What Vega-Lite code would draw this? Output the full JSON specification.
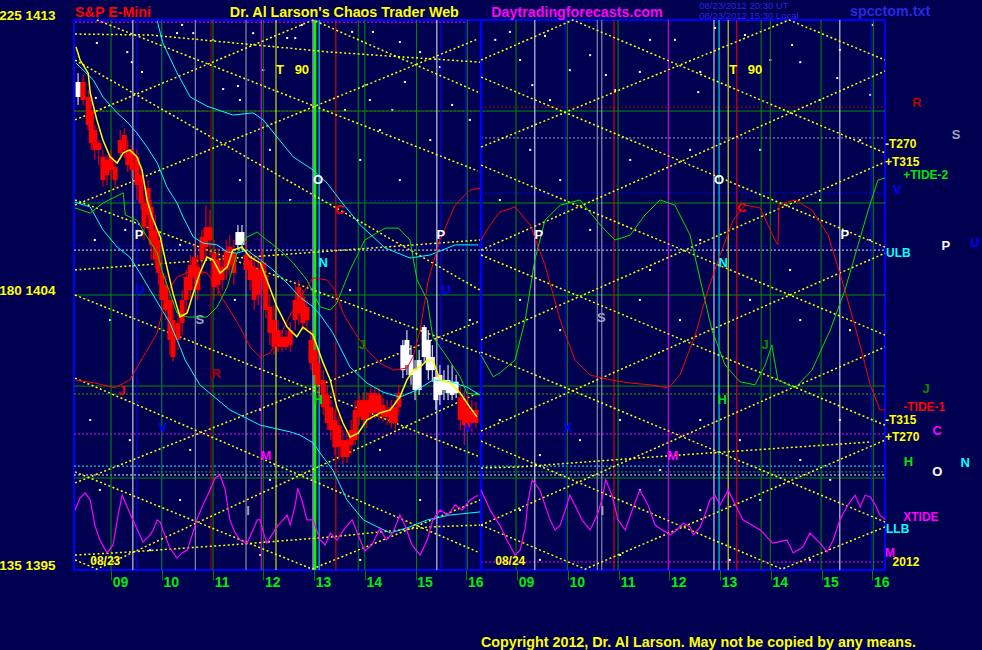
{
"$schema":"https://vega.github.io/schema/vega-lite/v6.json",
"width":811,"height":550,
"autosize":{"type":"none"},
"padding":{"left":74,"top":20,"right":97,"bottom":80},
"background":"#000050",
"config":{"view":{"stroke":"#0000ff","strokeWidth":2},"font":"Liberation Sans","axis":{"grid":false}},
"datasets":{
"stars":[{"s":-0.28,"p":1412.25},{"s":0.32,"p":1411.95},{"s":0.41,"p":1411.62},{"s":1.30,"p":1412.57},{"s":1.40,"p":1412.84},{"s":1.62,"p":1412.57},{"s":2.01,"p":1412.35},{"s":2.21,"p":1410.74},{"s":2.50,"p":1410.84},{"s":2.54,"p":1410.38},{"s":2.80,"p":1412.57},{"s":3.00,"p":1411.36},{"s":3.47,"p":1412.41},{"s":3.63,"p":1412.41},{"s":3.76,"p":1412.84},{"s":0.61,"p":1411.30},{"s":-0.30,"p":1410.45},{"s":4.75,"p":1412.61},{"s":5.16,"p":1412.61},{"s":5.69,"p":1412.28},{"s":6.09,"p":1411.95},{"s":6.48,"p":1411.46},{"s":6.72,"p":1410.22},{"s":5.79,"p":1410.97},{"s":5.00,"p":1410.87},{"s":5.10,"p":1410.38},{"s":4.61,"p":1410.05},{"s":5.54,"p":1410.05},{"s":7.57,"p":1412.35},{"s":7.86,"p":1412.61},{"s":8.55,"p":1412.48},{"s":8.06,"p":1411.69},{"s":8.65,"p":1410.38},{"s":8.30,"p":1410.87},{"s":10.62,"p":1412.35},{"s":10.42,"p":1411.30},{"s":9.93,"p":1410.71},{"s":9.75,"p":1411.20},{"s":9.44,"p":1411.85},{"s":9.04,"p":1411.36},{"s":11.11,"p":1412.35},{"s":11.61,"p":1411.30},{"s":11.90,"p":1412.74},{"s":12.49,"p":1412.51},{"s":12.99,"p":1411.69},{"s":13.42,"p":1412.18},{"s":13.58,"p":1411.62},{"s":13.97,"p":1410.38},{"s":14.31,"p":1411.10},{"s":14.36,"p":1412.02},{"s":15.00,"p":1412.84},{"s":14.96,"p":1410.55},{"s":11.57,"p":1410.64},{"s":-0.32,"p":1405.80},{"s":0.28,"p":1406.13},{"s":1.36,"p":1405.64},{"s":2.54,"p":1407.76},{"s":3.13,"p":1408.75},{"s":3.53,"p":1407.11},{"s":4.91,"p":1408.42},{"s":5.30,"p":1409.40},{"s":5.69,"p":1407.76},{"s":6.29,"p":1409.07},{"s":7.07,"p":1409.73},{"s":7.66,"p":1407.11},{"s":8.26,"p":1408.75},{"s":8.85,"p":1407.76},{"s":9.44,"p":1406.13},{"s":10.23,"p":1408.42},{"s":10.62,"p":1404.82},{"s":11.41,"p":1408.75},{"s":11.61,"p":1405.80},{"s":12.79,"p":1408.75},{"s":13.38,"p":1404.82},{"s":13.97,"p":1407.11},{"s":14.76,"p":1409.07},{"s":14.96,"p":1405.80},{"s":-0.02,"p":1403.18},{"s":2.44,"p":1403.84},{"s":4.71,"p":1404.16},{"s":7.07,"p":1403.18},{"s":8.06,"p":1403.84},{"s":8.85,"p":1402.85},{"s":10.42,"p":1403.84},{"s":11.21,"p":1403.18},{"s":12.59,"p":1403.84},{"s":13.58,"p":1403.18},{"s":14.56,"p":1402.85},{"s":-0.41,"p":1399.91},{"s":0.37,"p":1399.25},{"s":1.56,"p":1398.93},{"s":2.94,"p":1400.24},{"s":5.30,"p":1398.93},{"s":7.66,"p":1399.91},{"s":8.45,"p":1398.76},{"s":9.24,"p":1399.25},{"s":10.03,"p":1399.91},{"s":10.82,"p":1398.27},{"s":11.61,"p":1399.91},{"s":12.39,"p":1399.25},{"s":13.58,"p":1398.60},{"s":14.36,"p":1399.91},{"s":-0.22,"p":1397.62},{"s":1.36,"p":1397.29},{"s":3.13,"p":1397.95},{"s":6.09,"p":1397.29},{"s":8.06,"p":1396.96},{"s":10.42,"p":1397.62},{"s":11.61,"p":1396.96},{"s":12.79,"p":1397.29},{"s":14.17,"p":1397.95},{"s":-0.32,"p":1395.33},{"s":0.77,"p":1395.65},{"s":2.94,"p":1395.49},{"s":4.91,"p":1395.33},{"s":8.45,"p":1395.33},{"s":10.03,"p":1395.49},{"s":12.19,"p":1395.33},{"s":13.77,"p":1395.33}],
"hlines":[{"p":1412.93,"s0":-0.71,"s1":6.99,"k":"m"},{"p":1410.02,"s0":-0.73,"s1":7.29,"k":"dr"},{"p":1410.15,"s0":7.29,"s1":15.25,"k":"dr"},{"p":1410.02,"s0":-0.73,"s1":15.25,"k":"g"},{"p":1409.14,"s0":7.29,"s1":15.25,"k":"gy"},{"p":1407.08,"s0":-0.73,"s1":7.29,"k":"b"},{"p":1407.34,"s0":7.29,"s1":15.25,"k":"b"},{"p":1407.01,"s0":-0.73,"s1":15.25,"k":"g"},{"p":1405.60,"s0":-0.73,"s1":15.25,"k":"b"},{"p":1405.47,"s0":-0.73,"s1":15.25,"k":"w"},{"p":1404.00,"s0":-0.73,"s1":15.25,"k":"g"},{"p":1401.02,"s0":-0.73,"s1":15.25,"k":"g"},{"p":1400.76,"s0":-0.73,"s1":15.25,"k":"gd"},{"p":1399.45,"s0":-0.73,"s1":15.25,"k":"m"},{"p":1398.40,"s0":-0.73,"s1":15.25,"k":"c"},{"p":1398.21,"s0":0.83,"s1":15.25,"k":"gd"},{"p":1398.11,"s0":-0.73,"s1":15.25,"k":"w"},{"p":1398.01,"s0":-0.73,"s1":15.25,"k":"g"},{"p":1395.26,"s0":7.29,"s1":15.25,"k":"m"}],
"vlines":[{"s":0,"k":"g"},{"s":0.43,"k":"w"},{"s":0.51,"k":"b"},{"s":0.99,"k":"b"},{"s":1.00,"k":"g"},{"s":1.66,"k":"gy"},{"s":1.97,"k":"dr"},{"s":2.01,"k":"g"},{"s":2.66,"k":"gy"},{"s":2.96,"k":"m"},{"s":3.00,"k":"g"},{"s":3.25,"k":"y"},{"s":3.98,"k":"w"},{"s":4.02,"k":"lime"},{"s":4.10,"k":"c"},{"s":4.43,"k":"r"},{"s":4.87,"k":"g"},{"s":5.00,"k":"g"},{"s":6.02,"k":"g"},{"s":6.42,"k":"w"},{"s":6.50,"k":"b"},{"s":6.99,"k":"b"},{"s":7.02,"k":"g"},{"s":7.29,"k":"B"},{"s":7.98,"k":"g"},{"s":8.35,"k":"w"},{"s":8.95,"k":"b"},{"s":8.99,"k":"g"},{"s":9.58,"k":"gy"},{"s":9.67,"k":"gy"},{"s":9.91,"k":"r"},{"s":9.99,"k":"g"},{"s":10.98,"k":"m"},{"s":11.88,"k":"w"},{"s":11.98,"k":"c"},{"s":12.16,"k":"y"},{"s":12.33,"k":"r"},{"s":12.81,"k":"g"},{"s":12.99,"k":"g"},{"s":13.99,"k":"g"},{"s":14.36,"k":"w"},{"s":14.98,"k":"b"},{"s":15.02,"k":"g"}],
"ydots":[
{"id":"Y1","s":-0.71,"p":1409.73},{"id":"Y1","s":3.98,"p":1413.0},{"id":"Y1","s":7.23,"p":1410.64},
{"id":"Y2","s":-0.28,"p":1413.0},{"id":"Y2","s":7.23,"p":1408.06},
{"id":"Y3","s":-0.71,"p":1412.54},{"id":"Y3","s":0.77,"p":1412.51},{"id":"Y3","s":4.32,"p":1411.95},{"id":"Y3","s":7.27,"p":1411.62},
{"id":"Y4","s":-0.71,"p":1406.94},{"id":"Y4","s":7.23,"p":1412.38},
{"id":"Y5","s":-0.71,"p":1411.69},{"id":"Y5","s":4.51,"p":1406.78},{"id":"Y5","s":7.27,"p":1404.16},
{"id":"Y6","s":-0.71,"p":1407.11},{"id":"Y6","s":7.27,"p":1402.10},
{"id":"Y7","s":-0.71,"p":1404.0},{"id":"Y7","s":7.27,"p":1398.70},
{"id":"Y8","s":-0.71,"p":1401.28},{"id":"Y8","s":7.27,"p":1395.56},
{"id":"Y9","s":-0.71,"p":1397.85},{"id":"Y9","s":7.27,"p":1403.15},
{"id":"Y10","s":-0.71,"p":1395.33},{"id":"Y10","s":-0.28,"p":1395.03},{"id":"Y10","s":7.27,"p":1400.82},
{"id":"Y11","s":-0.71,"p":1398.21},{"id":"Y11","s":3.96,"p":1395.03},{"id":"Y11","s":7.27,"p":1397.29},
{"id":"Y12","s":-0.71,"p":1395.49},{"id":"Y12","s":0.37,"p":1395.59},{"id":"Y12","s":2.34,"p":1395.82},{"id":"Y12","s":4.32,"p":1396.08},{"id":"Y12","s":6.29,"p":1396.41},{"id":"Y12","s":7.27,"p":1396.47},
{"id":"Y14","s":-0.71,"p":1404.82},{"id":"Y14","s":7.27,"p":1405.80},
{"id":"D1","s":7.29,"p":1411.69},{"id":"D1","s":9.10,"p":1413.0},{"id":"D1","s":15.25,"p":1408.65},
{"id":"Ra","s":7.29,"p":1408.84},{"id":"Ra","s":13.36,"p":1413.0},{"id":"Ra","s":15.25,"p":1411.69},
{"id":"Rb","s":7.29,"p":1405.47},{"id":"Rb","s":15.25,"p":1411.33},
{"id":"Rc","s":7.29,"p":1402.53},{"id":"Rc","s":15.25,"p":1408.35},
{"id":"Rd","s":7.29,"p":1399.55},{"id":"Rd","s":15.25,"p":1405.37},
{"id":"Re","s":7.29,"p":1396.47},{"id":"Re","s":15.25,"p":1402.30},
{"id":"Rf","s":7.29,"p":1396.47},{"id":"Rf","s":9.34,"p":1395.03},{"id":"Rf","s":15.25,"p":1399.25},
{"id":"Dd2","s":7.29,"p":1411.13},{"id":"Dd2","s":15.25,"p":1405.57},
{"id":"Dd3","s":7.29,"p":1408.25},{"id":"Dd3","s":15.25,"p":1402.69},
{"id":"Dd4","s":7.29,"p":1405.31},{"id":"Dd4","s":15.25,"p":1399.74},
{"id":"Dd5","s":7.29,"p":1402.13},{"id":"Dd5","s":15.25,"p":1396.57},
{"id":"Dd6","s":7.29,"p":1399.22},{"id":"Dd6","s":13.22,"p":1395.03},{"id":"Dd6","s":15.25,"p":1396.41},
{"id":"D10","s":7.29,"p":1398.34},{"id":"D10","s":8.02,"p":1398.37},{"id":"D10","s":11.17,"p":1398.76},{"id":"D10","s":14.98,"p":1399.19}],
"candles":[{"s":-0.65,"t":1410.97,"b":1410.48,"h":1411.26,"l":1410.22,"k":"wt"},{"s":-0.55,"t":1410.97,"b":1410.38,"h":1411.20,"l":1410.22,"k":"r"},{"s":-0.45,"t":1410.48,"b":1409.56,"h":1410.71,"l":1409.40,"k":"r"},{"s":-0.39,"t":1410.05,"b":1408.97,"h":1410.38,"l":1408.75,"k":"r"},{"s":-0.32,"t":1409.40,"b":1408.75,"h":1409.56,"l":1408.42,"k":"r"},{"s":-0.24,"t":1408.97,"b":1408.75,"h":1409.07,"l":1408.25,"k":"r"},{"s":-0.16,"t":1408.52,"b":1407.76,"h":1408.75,"l":1407.54,"k":"r"},{"s":-0.08,"t":1408.42,"b":1407.93,"h":1408.58,"l":1407.60,"k":"r"},{"s":0.00,"t":1408.52,"b":1408.09,"h":1408.75,"l":1407.76,"k":"r"},{"s":0.08,"t":1408.19,"b":1407.76,"h":1408.42,"l":1407.50,"k":"r"},{"s":0.18,"t":1409.07,"b":1408.65,"h":1409.40,"l":1408.42,"k":"r"},{"s":0.26,"t":1409.24,"b":1408.75,"h":1409.46,"l":1408.48,"k":"r"},{"s":0.33,"t":1408.75,"b":1408.25,"h":1409.07,"l":1408.02,"k":"r"},{"s":0.41,"t":1408.75,"b":1408.09,"h":1408.91,"l":1407.83,"k":"r"},{"s":0.51,"t":1408.52,"b":1407.60,"h":1408.75,"l":1407.11,"k":"r"},{"s":0.59,"t":1407.93,"b":1407.01,"h":1408.25,"l":1406.78,"k":"r"},{"s":0.65,"t":1407.01,"b":1406.22,"h":1407.27,"l":1405.80,"k":"r"},{"s":0.73,"t":1407.50,"b":1406.62,"h":1407.76,"l":1406.13,"k":"r"},{"s":0.79,"t":1406.88,"b":1405.64,"h":1407.11,"l":1405.15,"k":"r"},{"s":0.87,"t":1406.13,"b":1405.15,"h":1406.62,"l":1404.88,"k":"r"},{"s":0.93,"t":1405.80,"b":1404.72,"h":1405.96,"l":1404.33,"k":"r"},{"s":1.00,"t":1404.72,"b":1403.84,"h":1405.15,"l":1403.51,"k":"r"},{"s":1.08,"t":1404.33,"b":1403.51,"h":1404.65,"l":1403.18,"k":"r"},{"s":1.16,"t":1403.84,"b":1402.53,"h":1404.16,"l":1402.04,"k":"r"},{"s":1.22,"t":1403.18,"b":1401.97,"h":1403.84,"l":1401.81,"k":"r"},{"s":1.32,"t":1403.08,"b":1402.53,"h":1403.51,"l":1402.20,"k":"r"},{"s":1.40,"t":1403.84,"b":1403.08,"h":1404.16,"l":1402.69,"k":"r"},{"s":1.48,"t":1404.59,"b":1403.84,"h":1404.82,"l":1403.35,"k":"r"},{"s":1.56,"t":1404.98,"b":1404.16,"h":1405.31,"l":1403.84,"k":"r"},{"s":1.64,"t":1405.24,"b":1404.59,"h":1405.64,"l":1404.16,"k":"r"},{"s":1.71,"t":1404.92,"b":1404.16,"h":1405.31,"l":1403.84,"k":"r"},{"s":1.79,"t":1405.90,"b":1405.15,"h":1406.13,"l":1404.65,"k":"r"},{"s":1.87,"t":1406.22,"b":1405.57,"h":1406.94,"l":1405.15,"k":"r"},{"s":1.95,"t":1406.22,"b":1405.80,"h":1406.78,"l":1405.31,"k":"r"},{"s":2.03,"t":1405.37,"b":1404.26,"h":1405.80,"l":1403.84,"k":"r"},{"s":2.11,"t":1405.15,"b":1404.33,"h":1405.54,"l":1404.00,"k":"r"},{"s":2.19,"t":1404.92,"b":1404.49,"h":1405.31,"l":1404.16,"k":"r"},{"s":2.27,"t":1405.47,"b":1404.82,"h":1405.80,"l":1404.49,"k":"r"},{"s":2.34,"t":1405.57,"b":1404.98,"h":1405.96,"l":1404.65,"k":"r"},{"s":2.42,"t":1405.37,"b":1404.72,"h":1405.80,"l":1404.33,"k":"r"},{"s":2.50,"t":1406.06,"b":1405.64,"h":1406.29,"l":1405.47,"k":"wt"},{"s":2.58,"t":1406.06,"b":1405.64,"h":1406.29,"l":1405.47,"k":"wt"},{"s":2.66,"t":1405.31,"b":1404.82,"h":1405.80,"l":1404.49,"k":"r"},{"s":2.74,"t":1405.15,"b":1404.49,"h":1405.47,"l":1404.16,"k":"r"},{"s":2.82,"t":1404.92,"b":1403.84,"h":1405.31,"l":1403.51,"k":"r"},{"s":2.90,"t":1404.82,"b":1404.00,"h":1405.31,"l":1403.67,"k":"r"},{"s":2.98,"t":1405.05,"b":1404.49,"h":1405.47,"l":1404.16,"k":"r"},{"s":3.05,"t":1404.65,"b":1403.51,"h":1405.08,"l":1403.25,"k":"r"},{"s":3.13,"t":1403.61,"b":1402.76,"h":1404.00,"l":1402.36,"k":"r"},{"s":3.21,"t":1403.18,"b":1402.30,"h":1403.67,"l":1402.04,"k":"r"},{"s":3.29,"t":1402.85,"b":1402.30,"h":1403.18,"l":1402.13,"k":"r"},{"s":3.37,"t":1402.63,"b":1402.30,"h":1402.85,"l":1402.13,"k":"r"},{"s":3.45,"t":1402.63,"b":1402.30,"h":1402.85,"l":1402.20,"k":"r"},{"s":3.53,"t":1402.85,"b":1402.36,"h":1403.12,"l":1402.13,"k":"r"},{"s":3.63,"t":1403.84,"b":1403.18,"h":1404.33,"l":1402.85,"k":"r"},{"s":3.70,"t":1404.26,"b":1403.41,"h":1404.49,"l":1403.02,"k":"r"},{"s":3.78,"t":1403.93,"b":1403.08,"h":1404.16,"l":1402.85,"k":"r"},{"s":3.86,"t":1403.61,"b":1403.18,"h":1403.84,"l":1402.85,"k":"r"},{"s":3.94,"t":1402.53,"b":1401.77,"h":1402.85,"l":1401.54,"k":"r"},{"s":4.02,"t":1402.20,"b":1401.38,"h":1402.53,"l":1401.06,"k":"r"},{"s":4.08,"t":1401.77,"b":1401.06,"h":1402.04,"l":1400.56,"k":"r"},{"s":4.18,"t":1401.22,"b":1400.33,"h":1401.54,"l":1400.07,"k":"r"},{"s":4.26,"t":1400.73,"b":1399.81,"h":1401.06,"l":1399.58,"k":"r"},{"s":4.33,"t":1400.33,"b":1399.58,"h":1400.56,"l":1399.25,"k":"r"},{"s":4.41,"t":1399.91,"b":1399.02,"h":1400.24,"l":1398.76,"k":"r"},{"s":4.49,"t":1399.74,"b":1399.02,"h":1400.07,"l":1398.60,"k":"r"},{"s":4.57,"t":1399.25,"b":1398.70,"h":1399.58,"l":1398.44,"k":"r"},{"s":4.65,"t":1399.25,"b":1398.70,"h":1399.58,"l":1398.50,"k":"r"},{"s":4.73,"t":1399.58,"b":1399.09,"h":1399.91,"l":1398.76,"k":"r"},{"s":4.81,"t":1400.24,"b":1399.25,"h":1400.56,"l":1399.09,"k":"r"},{"s":4.89,"t":1400.56,"b":1400.01,"h":1400.73,"l":1399.74,"k":"r"},{"s":4.97,"t":1400.56,"b":1399.91,"h":1400.82,"l":1399.74,"k":"r"},{"s":5.04,"t":1400.56,"b":1399.91,"h":1400.82,"l":1399.65,"k":"r"},{"s":5.12,"t":1400.79,"b":1400.14,"h":1401.06,"l":1399.91,"k":"r"},{"s":5.20,"t":1400.79,"b":1400.14,"h":1400.96,"l":1399.97,"k":"r"},{"s":5.28,"t":1400.73,"b":1400.14,"h":1400.96,"l":1399.91,"k":"r"},{"s":5.36,"t":1400.40,"b":1400.01,"h":1400.63,"l":1399.84,"k":"r"},{"s":5.44,"t":1400.24,"b":1400.01,"h":1400.56,"l":1399.74,"k":"r"},{"s":5.52,"t":1400.33,"b":1399.81,"h":1400.56,"l":1399.65,"k":"r"},{"s":5.60,"t":1400.33,"b":1399.81,"h":1400.56,"l":1399.58,"k":"r"},{"s":5.67,"t":1400.79,"b":1400.33,"h":1401.06,"l":1400.07,"k":"r"},{"s":5.75,"t":1402.36,"b":1401.54,"h":1402.53,"l":1401.28,"k":"wt"},{"s":5.83,"t":1402.53,"b":1401.71,"h":1402.85,"l":1401.38,"k":"wt"},{"s":5.91,"t":1402.04,"b":1401.38,"h":1402.36,"l":1401.06,"k":"wt"},{"s":5.99,"t":1401.54,"b":1400.89,"h":1401.87,"l":1400.56,"k":"wt"},{"s":6.07,"t":1401.87,"b":1400.89,"h":1402.20,"l":1400.73,"k":"wt"},{"s":6.17,"t":1402.95,"b":1401.97,"h":1403.02,"l":1401.81,"k":"wt"},{"s":6.25,"t":1402.53,"b":1401.54,"h":1402.85,"l":1401.22,"k":"wt"},{"s":6.33,"t":1401.97,"b":1401.54,"h":1402.36,"l":1401.16,"k":"wt"},{"s":6.40,"t":1401.32,"b":1400.56,"h":1401.54,"l":1400.24,"k":"wt"},{"s":6.48,"t":1401.38,"b":1400.73,"h":1401.71,"l":1400.40,"k":"wt"},{"s":6.56,"t":1401.22,"b":1400.89,"h":1401.54,"l":1400.56,"k":"wt"},{"s":6.64,"t":1401.22,"b":1400.79,"h":1401.71,"l":1400.56,"k":"wt"},{"s":6.72,"t":1401.16,"b":1400.73,"h":1401.71,"l":1400.56,"k":"wt"},{"s":6.80,"t":1401.16,"b":1400.79,"h":1401.38,"l":1400.63,"k":"wt"},{"s":6.88,"t":1400.66,"b":1399.91,"h":1401.06,"l":1399.58,"k":"r"},{"s":6.96,"t":1400.56,"b":1399.74,"h":1400.89,"l":1399.09,"k":"r"},{"s":7.03,"t":1400.33,"b":1399.68,"h":1400.73,"l":1399.58,"k":"r"},{"s":7.11,"t":1400.24,"b":1399.81,"h":1400.56,"l":1399.52,"k":"r"},{"s":7.19,"t":1400.24,"b":1399.81,"h":1400.50,"l":1399.65,"k":"r"}],
"cyan":[
{"id":"U","s":0.91,"p":1412.97},{"id":"U","s":1.02,"p":1412.25},{"id":"U","s":1.30,"p":1411.27},{"id":"U","s":1.56,"p":1410.48},{"id":"U","s":1.89,"p":1410.18},{"id":"U","s":2.40,"p":1409.89},{"id":"U","s":2.80,"p":1409.96},{"id":"U","s":3.00,"p":1409.73},{"id":"U","s":3.27,"p":1409.17},{"id":"U","s":3.59,"p":1408.52},{"id":"U","s":3.98,"p":1408.09},{"id":"U","s":4.26,"p":1407.66},{"id":"U","s":4.51,"p":1407.11},{"id":"U","s":4.91,"p":1406.29},{"id":"U","s":5.40,"p":1405.54},{"id":"U","s":5.89,"p":1405.21},{"id":"U","s":6.29,"p":1405.31},{"id":"U","s":6.78,"p":1405.64},{"id":"U","s":7.23,"p":1405.64},
{"id":"M","s":-0.69,"p":1411.59},{"id":"M","s":-0.35,"p":1411.04},{"id":"M","s":-0.16,"p":1410.48},{"id":"M","s":0.12,"p":1409.96},{"id":"M","s":0.32,"p":1409.66},{"id":"M","s":0.51,"p":1409.30},{"id":"M","s":0.71,"p":1408.84},{"id":"M","s":0.91,"p":1408.32},{"id":"M","s":1.10,"p":1407.54},{"id":"M","s":1.30,"p":1407.01},{"id":"M","s":1.42,"p":1406.55},{"id":"M","s":1.62,"p":1405.90},{"id":"M","s":1.81,"p":1405.70},{"id":"M","s":2.09,"p":1405.64},{"id":"M","s":2.29,"p":1405.41},{"id":"M","s":2.48,"p":1405.37},{"id":"M","s":2.68,"p":1405.47},{"id":"M","s":2.94,"p":1405.15},{"id":"M","s":3.19,"p":1404.82},{"id":"M","s":3.47,"p":1404.39},{"id":"M","s":3.72,"p":1403.93},{"id":"M","s":3.98,"p":1403.61},{"id":"M","s":4.12,"p":1403.35},{"id":"M","s":4.37,"p":1402.76},{"id":"M","s":4.71,"p":1401.64},{"id":"M","s":5.04,"p":1401.12},{"id":"M","s":5.36,"p":1400.82},{"id":"M","s":5.69,"p":1400.66},{"id":"M","s":6.03,"p":1400.89},{"id":"M","s":6.34,"p":1401.22},{"id":"M","s":6.68,"p":1401.16},{"id":"M","s":7.01,"p":1400.99},{"id":"M","s":7.27,"p":1400.73},
{"id":"L","s":-0.71,"p":1407.04},{"id":"L","s":-0.41,"p":1406.88},{"id":"L","s":-0.16,"p":1406.13},{"id":"L","s":0.12,"p":1405.57},{"id":"L","s":0.37,"p":1405.24},{"id":"L","s":0.57,"p":1404.72},{"id":"L","s":0.77,"p":1404.16},{"id":"L","s":0.97,"p":1403.61},{"id":"L","s":1.16,"p":1403.08},{"id":"L","s":1.36,"p":1402.30},{"id":"L","s":1.46,"p":1401.87},{"id":"L","s":1.75,"p":1401.06},{"id":"L","s":2.34,"p":1400.24},{"id":"L","s":2.94,"p":1399.74},{"id":"L","s":3.53,"p":1399.52},{"id":"L","s":3.72,"p":1399.42},{"id":"L","s":3.98,"p":1399.16},{"id":"L","s":4.12,"p":1398.83},{"id":"L","s":4.37,"p":1398.27},{"id":"L","s":4.65,"p":1397.29},{"id":"L","s":4.97,"p":1396.64},{"id":"L","s":5.50,"p":1396.21},{"id":"L","s":5.89,"p":1396.41},{"id":"L","s":6.23,"p":1396.64},{"id":"L","s":6.68,"p":1396.80},{"id":"L","s":7.27,"p":1396.90}],
"green":[
{"id":"a","s":-0.71,"p":1406.85},{"id":"a","s":-0.41,"p":1406.68},{"id":"a","s":-0.16,"p":1407.01},{"id":"a","s":0.24,"p":1407.34},{"id":"a","s":0.28,"p":1406.62},{"id":"a","s":0.51,"p":1406.45},{"id":"a","s":0.71,"p":1405.90},{"id":"a","s":0.91,"p":1405.37},{"id":"a","s":1.02,"p":1404.72},{"id":"a","s":1.16,"p":1404.06},{"id":"a","s":1.30,"p":1403.41},{"id":"a","s":1.50,"p":1403.28},{"id":"a","s":1.89,"p":1403.28},{"id":"a","s":2.09,"p":1403.61},{"id":"a","s":2.29,"p":1404.26},{"id":"a","s":2.48,"p":1405.37},{"id":"a","s":2.68,"p":1405.90},{"id":"a","s":2.88,"p":1406.06},{"id":"a","s":3.07,"p":1405.80},{"id":"a","s":3.33,"p":1405.47},{"id":"a","s":3.59,"p":1405.05},{"id":"a","s":3.86,"p":1404.49},{"id":"a","s":4.12,"p":1403.61},{"id":"a","s":4.32,"p":1403.51},{"id":"a","s":4.45,"p":1403.74},{"id":"a","s":4.71,"p":1404.82},{"id":"a","s":5.00,"p":1405.80},{"id":"a","s":5.40,"p":1406.19},{"id":"a","s":5.66,"p":1406.19},{"id":"a","s":5.89,"p":1405.80},{"id":"a","s":6.03,"p":1404.49},{"id":"a","s":6.23,"p":1403.84},{"id":"a","s":6.34,"p":1402.63},{"id":"a","s":6.62,"p":1401.97},{"id":"a","s":6.88,"p":1401.32},{"id":"a","s":7.01,"p":1400.79},{"id":"a","s":7.27,"p":1400.73},
{"id":"b","s":7.29,"p":1402.04},{"id":"b","s":7.53,"p":1401.32},{"id":"b","s":7.66,"p":1401.45},{"id":"b","s":7.96,"p":1401.87},{"id":"b","s":8.16,"p":1403.18},{"id":"b","s":8.35,"p":1405.15},{"id":"b","s":8.55,"p":1406.45},{"id":"b","s":8.85,"p":1406.94},{"id":"b","s":9.24,"p":1407.11},{"id":"b","s":9.64,"p":1406.29},{"id":"b","s":9.93,"p":1405.80},{"id":"b","s":10.23,"p":1405.96},{"id":"b","s":10.52,"p":1406.62},{"id":"b","s":10.82,"p":1407.11},{"id":"b","s":11.11,"p":1406.94},{"id":"b","s":11.41,"p":1405.96},{"id":"b","s":11.61,"p":1404.49},{"id":"b","s":11.84,"p":1402.85},{"id":"b","s":12.10,"p":1401.71},{"id":"b","s":12.39,"p":1401.16},{"id":"b","s":12.69,"p":1401.06},{"id":"b","s":12.89,"p":1401.71},{"id":"b","s":13.02,"p":1402.36},{"id":"b","s":13.14,"p":1401.22},{"id":"b","s":13.48,"p":1400.96},{"id":"b","s":13.81,"p":1401.54},{"id":"b","s":14.17,"p":1402.85},{"id":"b","s":14.46,"p":1404.16},{"id":"b","s":14.72,"p":1405.64},{"id":"b","s":14.92,"p":1406.78},{"id":"b","s":15.11,"p":1407.76},{"id":"b","s":15.25,"p":1407.83}],
"red":[
{"id":"a","s":-0.71,"p":1401.22},{"id":"a","s":-0.32,"p":1401.12},{"id":"a","s":0.08,"p":1400.96},{"id":"a","s":0.37,"p":1401.22},{"id":"a","s":0.63,"p":1401.97},{"id":"a","s":0.91,"p":1402.76},{"id":"a","s":1.10,"p":1404.06},{"id":"a","s":1.30,"p":1404.59},{"id":"a","s":1.62,"p":1404.82},{"id":"a","s":1.89,"p":1404.72},{"id":"a","s":2.09,"p":1404.26},{"id":"a","s":2.21,"p":1403.84},{"id":"a","s":2.34,"p":1403.51},{"id":"a","s":2.54,"p":1402.95},{"id":"a","s":2.74,"p":1402.30},{"id":"a","s":2.94,"p":1401.97},{"id":"a","s":3.13,"p":1402.10},{"id":"a","s":3.33,"p":1402.69},{"id":"a","s":3.63,"p":1403.67},{"id":"a","s":3.98,"p":1404.56},{"id":"a","s":4.26,"p":1404.49},{"id":"a","s":4.41,"p":1404.16},{"id":"a","s":4.57,"p":1403.41},{"id":"a","s":4.77,"p":1402.85},{"id":"a","s":5.04,"p":1402.20},{"id":"a","s":5.30,"p":1401.77},{"id":"a","s":5.56,"p":1401.54},{"id":"a","s":5.83,"p":1401.61},{"id":"a","s":5.95,"p":1401.97},{"id":"a","s":6.09,"p":1402.85},{"id":"a","s":6.25,"p":1404.49},{"id":"a","s":6.48,"p":1405.80},{"id":"a","s":6.78,"p":1406.94},{"id":"a","s":7.07,"p":1407.44},{"id":"a","s":7.27,"p":1407.50},
{"id":"b","s":7.29,"p":1405.80},{"id":"b","s":7.47,"p":1406.29},{"id":"b","s":7.66,"p":1406.72},{"id":"b","s":7.96,"p":1406.88},{"id":"b","s":8.26,"p":1406.29},{"id":"b","s":8.55,"p":1404.98},{"id":"b","s":8.85,"p":1403.18},{"id":"b","s":9.14,"p":1401.87},{"id":"b","s":9.44,"p":1401.38},{"id":"b","s":9.83,"p":1401.22},{"id":"b","s":10.23,"p":1401.12},{"id":"b","s":10.62,"p":1401.06},{"id":"b","s":10.98,"p":1400.96},{"id":"b","s":11.21,"p":1401.38},{"id":"b","s":11.51,"p":1402.69},{"id":"b","s":11.76,"p":1404.16},{"id":"b","s":12.00,"p":1405.31},{"id":"b","s":12.26,"p":1406.45},{"id":"b","s":12.49,"p":1406.94},{"id":"b","s":12.79,"p":1406.85},{"id":"b","s":13.08,"p":1405.80},{"id":"b","s":13.14,"p":1405.64},{"id":"b","s":13.16,"p":1406.94},{"id":"b","s":13.48,"p":1407.11},{"id":"b","s":13.81,"p":1406.78},{"id":"b","s":14.13,"p":1405.96},{"id":"b","s":14.46,"p":1404.16},{"id":"b","s":14.76,"p":1402.36},{"id":"b","s":14.96,"p":1401.06},{"id":"b","s":15.15,"p":1400.24},{"id":"b","s":15.25,"p":1400.24}],
"magenta":[
{"id":"a","s":-0.71,"p":1396.96},{"id":"a","s":-0.61,"p":1397.36},{"id":"a","s":-0.51,"p":1397.52},{"id":"a","s":-0.41,"p":1397.29},{"id":"a","s":-0.32,"p":1396.47},{"id":"a","s":-0.22,"p":1395.98},{"id":"a","s":-0.08,"p":1395.56},{"id":"a","s":0.04,"p":1395.82},{"id":"a","s":0.14,"p":1396.80},{"id":"a","s":0.22,"p":1397.45},{"id":"a","s":0.30,"p":1397.13},{"id":"a","s":0.43,"p":1396.64},{"id":"a","s":0.63,"p":1395.92},{"id":"a","s":0.77,"p":1396.15},{"id":"a","s":0.83,"p":1396.31},{"id":"a","s":0.91,"p":1396.64},{"id":"a","s":0.97,"p":1396.57},{"id":"a","s":1.02,"p":1396.31},{"id":"a","s":1.16,"p":1395.72},{"id":"a","s":1.30,"p":1395.39},{"id":"a","s":1.40,"p":1395.56},{"id":"a","s":1.50,"p":1395.65},{"id":"a","s":1.60,"p":1396.15},{"id":"a","s":1.69,"p":1396.64},{"id":"a","s":1.81,"p":1397.13},{"id":"a","s":1.95,"p":1397.62},{"id":"a","s":2.05,"p":1398.01},{"id":"a","s":2.15,"p":1398.11},{"id":"a","s":2.25,"p":1397.62},{"id":"a","s":2.34,"p":1396.64},{"id":"a","s":2.44,"p":1396.24},{"id":"a","s":2.54,"p":1395.98},{"id":"a","s":2.68,"p":1395.88},{"id":"a","s":2.78,"p":1396.24},{"id":"a","s":2.88,"p":1396.64},{"id":"a","s":2.94,"p":1396.64},{"id":"a","s":3.00,"p":1396.24},{"id":"a","s":3.07,"p":1395.88},{"id":"a","s":3.17,"p":1396.15},{"id":"a","s":3.29,"p":1396.47},{"id":"a","s":3.39,"p":1396.64},{"id":"a","s":3.47,"p":1396.80},{"id":"a","s":3.53,"p":1396.47},{"id":"a","s":3.63,"p":1397.13},{"id":"a","s":3.68,"p":1397.68},{"id":"a","s":3.76,"p":1397.29},{"id":"a","s":3.86,"p":1396.64},{"id":"a","s":3.98,"p":1396.64},{"id":"a","s":4.12,"p":1395.98},{"id":"a","s":4.22,"p":1395.82},{"id":"a","s":4.32,"p":1396.21},{"id":"a","s":4.45,"p":1395.98},{"id":"a","s":4.61,"p":1396.37},{"id":"a","s":4.75,"p":1396.64},{"id":"a","s":4.91,"p":1395.98},{"id":"a","s":5.00,"p":1395.62},{"id":"a","s":5.14,"p":1395.82},{"id":"a","s":5.30,"p":1396.37},{"id":"a","s":5.42,"p":1395.98},{"id":"a","s":5.56,"p":1396.24},{"id":"a","s":5.69,"p":1396.80},{"id":"a","s":5.79,"p":1396.47},{"id":"a","s":5.93,"p":1395.82},{"id":"a","s":6.09,"p":1395.49},{"id":"a","s":6.23,"p":1395.98},{"id":"a","s":6.34,"p":1396.64},{"id":"a","s":6.48,"p":1396.96},{"id":"a","s":6.64,"p":1396.80},{"id":"a","s":6.78,"p":1397.13},{"id":"a","s":6.92,"p":1396.96},{"id":"a","s":7.07,"p":1397.29},{"id":"a","s":7.23,"p":1397.45},
{"id":"b","s":7.29,"p":1397.62},{"id":"b","s":7.47,"p":1396.96},{"id":"b","s":7.66,"p":1396.47},{"id":"b","s":7.80,"p":1395.98},{"id":"b","s":7.96,"p":1395.49},{"id":"b","s":8.06,"p":1395.65},{"id":"b","s":8.16,"p":1396.37},{"id":"b","s":8.22,"p":1397.29},{"id":"b","s":8.30,"p":1397.95},{"id":"b","s":8.45,"p":1397.62},{"id":"b","s":8.55,"p":1397.13},{"id":"b","s":8.65,"p":1396.64},{"id":"b","s":8.75,"p":1396.31},{"id":"b","s":8.85,"p":1396.47},{"id":"b","s":8.95,"p":1396.96},{"id":"b","s":9.04,"p":1397.45},{"id":"b","s":9.14,"p":1397.13},{"id":"b","s":9.28,"p":1396.64},{"id":"b","s":9.44,"p":1396.31},{"id":"b","s":9.58,"p":1396.80},{"id":"b","s":9.67,"p":1397.29},{"id":"b","s":9.75,"p":1397.95},{"id":"b","s":9.87,"p":1397.45},{"id":"b","s":9.99,"p":1396.64},{"id":"b","s":10.13,"p":1396.31},{"id":"b","s":10.27,"p":1396.96},{"id":"b","s":10.42,"p":1397.62},{"id":"b","s":10.58,"p":1397.13},{"id":"b","s":10.72,"p":1396.47},{"id":"b","s":10.86,"p":1396.31},{"id":"b","s":11.02,"p":1396.15},{"id":"b","s":11.15,"p":1396.31},{"id":"b","s":11.27,"p":1396.54},{"id":"b","s":11.41,"p":1396.41},{"id":"b","s":11.47,"p":1396.15},{"id":"b","s":11.61,"p":1396.41},{"id":"b","s":11.70,"p":1396.80},{"id":"b","s":11.80,"p":1397.29},{"id":"b","s":11.90,"p":1397.45},{"id":"b","s":12.00,"p":1397.13},{"id":"b","s":12.16,"p":1397.62},{"id":"b","s":12.30,"p":1397.13},{"id":"b","s":12.45,"p":1396.64},{"id":"b","s":12.79,"p":1396.31},{"id":"b","s":13.04,"p":1395.88},{"id":"b","s":13.32,"p":1395.98},{"id":"b","s":13.44,"p":1395.56},{"id":"b","s":13.63,"p":1395.75},{"id":"b","s":13.77,"p":1396.21},{"id":"b","s":13.97,"p":1395.88},{"id":"b","s":14.11,"p":1395.59},{"id":"b","s":14.23,"p":1395.98},{"id":"b","s":14.36,"p":1396.64},{"id":"b","s":14.52,"p":1397.13},{"id":"b","s":14.66,"p":1397.45},{"id":"b","s":14.76,"p":1397.06},{"id":"b","s":14.86,"p":1397.45},{"id":"b","s":14.96,"p":1397.39},{"id":"b","s":15.06,"p":1397.13},{"id":"b","s":15.15,"p":1396.80},{"id":"b","s":15.25,"p":1396.64}],
"ma":[{"s":-0.69,"p":1412.12},{"s":-0.61,"p":1411.69},{"s":-0.45,"p":1411.26},{"s":-0.41,"p":1410.61},{"s":-0.28,"p":1409.73},{"s":-0.16,"p":1409.07},{"s":-0.02,"p":1408.52},{"s":0.12,"p":1408.32},{"s":0.24,"p":1408.65},{"s":0.37,"p":1408.75},{"s":0.51,"p":1408.52},{"s":0.61,"p":1408.09},{"s":0.71,"p":1407.11},{"s":0.81,"p":1406.55},{"s":0.97,"p":1405.90},{"s":1.10,"p":1404.92},{"s":1.22,"p":1404.06},{"s":1.36,"p":1403.28},{"s":1.50,"p":1403.41},{"s":1.62,"p":1404.06},{"s":1.75,"p":1404.72},{"s":1.89,"p":1405.24},{"s":2.01,"p":1405.15},{"s":2.15,"p":1404.72},{"s":2.29,"p":1404.92},{"s":2.40,"p":1405.47},{"s":2.58,"p":1405.57},{"s":2.74,"p":1405.24},{"s":2.94,"p":1405.05},{"s":3.07,"p":1404.49},{"s":3.27,"p":1403.61},{"s":3.47,"p":1402.95},{"s":3.66,"p":1402.63},{"s":3.78,"p":1402.95},{"s":3.98,"p":1402.69},{"s":4.18,"p":1401.77},{"s":4.32,"p":1401.22},{"s":4.45,"p":1400.33},{"s":4.57,"p":1399.81},{"s":4.71,"p":1399.35},{"s":4.87,"p":1399.48},{"s":5.04,"p":1399.91},{"s":5.30,"p":1400.14},{"s":5.50,"p":1400.24},{"s":5.69,"p":1400.66},{"s":5.83,"p":1401.22},{"s":5.95,"p":1401.54},{"s":6.09,"p":1401.64},{"s":6.23,"p":1401.87},{"s":6.34,"p":1401.87},{"s":6.48,"p":1401.22},{"s":6.68,"p":1401.12},{"s":6.88,"p":1400.79},{"s":7.07,"p":1400.33},{"s":7.21,"p":1400.01}],
"letters":[{"s":3.33,"p":1411.36,"txt":"T","k":"y"},{"s":3.76,"p":1411.36,"txt":"90","k":"y"},{"s":12.26,"p":1411.36,"txt":"T","k":"y"},{"s":12.69,"p":1411.36,"txt":"90","k":"y"},{"s":4.08,"p":1407.76,"txt":"O","k":"wt"},{"s":11.98,"p":1407.76,"txt":"O","k":"wt"},{"s":0.55,"p":1405.96,"txt":"P","k":"wt"},{"s":6.50,"p":1405.96,"txt":"P","k":"wt"},{"s":8.43,"p":1405.96,"txt":"P","k":"wt"},{"s":14.46,"p":1405.96,"txt":"P","k":"wt"},{"s":4.18,"p":1405.05,"txt":"N","k":"c"},{"s":12.06,"p":1405.05,"txt":"N","k":"c"},{"s":4.51,"p":1406.78,"txt":"C","k":"r"},{"s":12.43,"p":1406.85,"txt":"C","k":"r"},{"s":0.57,"p":1404.16,"txt":"U","k":"b"},{"s":6.60,"p":1404.16,"txt":"U","k":"b"},{"s":1.75,"p":1403.18,"txt":"S","k":"gy"},{"s":9.66,"p":1403.25,"txt":"S","k":"gy"},{"s":4.95,"p":1402.36,"txt":"J","k":"g"},{"s":12.89,"p":1402.36,"txt":"J","k":"g"},{"s":4.08,"p":1400.56,"txt":"H","k":"lg"},{"s":12.04,"p":1400.56,"txt":"H","k":"lg"},{"s":1.02,"p":1399.65,"txt":"V","k":"b"},{"s":7.05,"p":1399.65,"txt":"V","k":"b"},{"s":9.00,"p":1399.65,"txt":"X","k":"b"},{"s":3.05,"p":1398.73,"txt":"M","k":"m"},{"s":11.07,"p":1398.73,"txt":"M","k":"m"},{"s":2.07,"p":1401.41,"txt":"R","k":"dr"},{"s":0.22,"p":1400.86,"txt":"J","k":"r"},{"s":2.70,"p":1396.93,"txt":"I","k":"gy"},{"s":9.68,"p":1396.93,"txt":"I","k":"gy"},{"s":15.88,"p":1410.28,"txt":"R","k":"dr"},{"s":16.65,"p":1409.24,"txt":"S","k":"gy"},{"s":15.49,"p":1407.44,"txt":"V","k":"b"},{"s":16.45,"p":1405.60,"txt":"P","k":"wt"},{"s":17.02,"p":1405.70,"txt":"U","k":"b"},{"s":16.06,"p":1400.92,"txt":"J","k":"g"},{"s":16.28,"p":1399.55,"txt":"C","k":"m"},{"s":15.71,"p":1398.53,"txt":"H","k":"lg"},{"s":16.28,"p":1398.21,"txt":"O","k":"wt"},{"s":16.83,"p":1398.50,"txt":"N","k":"c"}],
"rlabels":[{"s":15.25,"p":1408.94,"txt":"-T270","k":"y"},{"s":15.25,"p":1408.35,"txt":"+T315","k":"y"},{"s":15.61,"p":1407.93,"txt":"+TIDE-2","k":"lg"},{"s":15.27,"p":1405.37,"txt":"ULB","k":"c"},{"s":15.61,"p":1400.33,"txt":"-TIDE-1","k":"r"},{"s":15.25,"p":1399.91,"txt":"-T315","k":"y"},{"s":15.25,"p":1399.35,"txt":"+T270","k":"y"},{"s":15.61,"p":1396.74,"txt":"XTIDE","k":"m"},{"s":15.27,"p":1396.34,"txt":"LLB","k":"c"},{"s":15.25,"p":1395.55,"txt":"M","k":"m"},{"s":15.40,"p":1395.25,"txt":"2012","k":"y"},{"s":-0.41,"p":1395.29,"txt":"08/23","k":"y"},{"s":7.57,"p":1395.29,"txt":"08/24","k":"y"}],
"titles":[{"s":-0.71,"p":1413.23,"txt":"S&P E-Mini","k":"r"},{"s":2.34,"p":1413.23,"txt":"Dr. Al Larson's Chaos Trader Web","k":"y"},{"s":7.49,"p":1413.23,"txt":"Daytradingforecasts.com","k":"m"},{"s":14.56,"p":1413.26,"txt":"spcctom.txt","k":"ub"},{"s":7.29,"p":1392.61,"txt":"Copyright 2012, Dr. Al Larson. May not be copied by any means.","k":"y"}],
"small":[{"s":11.59,"p":1413.46,"txt":"08/23/2012 20:30 UT"},{"s":11.59,"p":1413.13,"txt":"08/23/2012 15:30 Local"}]
},
"layer":[
{"data":{"name":"stars"},"mark":{"type":"point","shape":"square","size":4,"filled":true,"color":"#ffffff","opacity":1},
 "encoding":{"x":{"field":"s","type":"quantitative","scale":{"domain":[-0.73,15.25],"nice":false,"zero":false},
   "axis":{"title":null,"values":[0,1,2,3,4,5,6,7,8,9,10,11,12,13,14,15],"labelExpr":"datum.value == 0 || datum.value == 8 ? '09' : '' + (datum.value < 8 ? datum.value + 9 : datum.value + 1)","grid":false,"domain":false,"ticks":true,"tickColor":"#008000","tickSize":10,"tickWidth":1,"labelColor":"#00ee00","labelFont":"Liberation Sans","labelFontWeight":"bold","labelFontSize":14,"labelOffset":9,"labelPadding":-5,"labelFlush":false,"labelOverlap":false}},
  "y":{"field":"p","type":"quantitative","scale":{"domain":[1395,1413],"nice":false,"zero":false},
   "axis":{"title":null,"values":[1395,1404,1413],"labelExpr":"datum.value == 1413 ? '225 1413' : datum.value == 1404 ? '180 1404' : '135 1395'","grid":false,"domain":false,"ticks":false,"labelColor":"#ffff00","labelFont":"Liberation Sans","labelFontWeight":"bold","labelFontSize":13.5,"labelPadding":19,"labelOffset":-5,"labelFlush":false,"labelOverlap":false}}}},
{"data":{"name":"hlines"},"transform":[{"filter":"datum.k != 'g'"}],"mark":{"type":"rule","strokeWidth":1,"strokeDash":[2,2]},
 "encoding":{"x":{"field":"s0","type":"quantitative","scale":{"domain":[-0.73,15.25],"nice":false,"zero":false},"axis":{"title":null}},"x2":{"field":"s1"},
  "y":{"field":"p","type":"quantitative","scale":{"domain":[1395,1413],"nice":false,"zero":false},"axis":{"title":null}},
  "color":{"field":"k","type":"nominal","legend":null,"scale":{"domain":["g","lime","w","b","gy","dr","m","y","c","r","gd","ub","lg","wt","B"],"range":["#009000","#00ff00","#e8e8ff","#0000ff","#a0a0c0","#b00000","#ff00ff","#ffff00","#00ffff","#ff0000","#00c000","#2828e0","#00e600","#ffffff","#0000ff"]}}}},
{"data":{"name":"hlines"},"transform":[{"filter":"datum.k == 'g'"}],"mark":{"type":"rule","strokeWidth":1},
 "encoding":{"x":{"field":"s0","type":"quantitative","scale":{"domain":[-0.73,15.25],"nice":false,"zero":false},"axis":{"title":null}},"x2":{"field":"s1"},
  "y":{"field":"p","type":"quantitative","scale":{"domain":[1395,1413],"nice":false,"zero":false},"axis":{"title":null}},
  "color":{"field":"k","type":"nominal","legend":null,"scale":{"domain":["g","lime","w","b","gy","dr","m","y","c","r","gd","ub","lg","wt","B"],"range":["#009000","#00ff00","#e8e8ff","#0000ff","#a0a0c0","#b00000","#ff00ff","#ffff00","#00ffff","#ff0000","#00c000","#2828e0","#00e600","#ffffff","#0000ff"]}}}},
{"data":{"name":"vlines"},"transform":[{"filter":"datum.k != 'lime' && datum.k != 'B'"}],"mark":{"type":"rule","strokeWidth":1},
 "encoding":{"x":{"field":"s","type":"quantitative","scale":{"domain":[-0.73,15.25],"nice":false,"zero":false},"axis":{"title":null}},
  "color":{"field":"k","type":"nominal","legend":null,"scale":{"domain":["g","lime","w","b","gy","dr","m","y","c","r","gd","ub","lg","wt","B"],"range":["#009000","#00ff00","#e8e8ff","#0000ff","#a0a0c0","#b00000","#ff00ff","#ffff00","#00ffff","#ff0000","#00c000","#2828e0","#00e600","#ffffff","#0000ff"]}}}},
{"data":{"name":"vlines"},"transform":[{"filter":"datum.k == 'lime' || datum.k == 'B'"}],"mark":{"type":"rule","strokeWidth":2.5},
 "encoding":{"x":{"field":"s","type":"quantitative","scale":{"domain":[-0.73,15.25],"nice":false,"zero":false},"axis":{"title":null}},
  "color":{"field":"k","type":"nominal","legend":null,"scale":{"domain":["g","lime","w","b","gy","dr","m","y","c","r","gd","ub","lg","wt","B"],"range":["#009000","#00ff00","#e8e8ff","#0000ff","#a0a0c0","#b00000","#ff00ff","#ffff00","#00ffff","#ff0000","#00c000","#2828e0","#00e600","#ffffff","#0000ff"]}}}},
{"data":{"name":"ydots"},"mark":{"type":"line","color":"#ffff00","strokeWidth":1.5,"strokeDash":[2,2.5]},
 "encoding":{"x":{"field":"s","type":"quantitative","scale":{"domain":[-0.73,15.25],"nice":false,"zero":false},"axis":{"title":null}},
  "y":{"field":"p","type":"quantitative","scale":{"domain":[1395,1413],"nice":false,"zero":false},"axis":{"title":null}},"detail":{"field":"id","type":"nominal"}}},
{"data":{"name":"candles"},"mark":{"type":"rule","strokeWidth":1},
 "encoding":{"x":{"field":"s","type":"quantitative","scale":{"domain":[-0.73,15.25],"nice":false,"zero":false},"axis":{"title":null}},
  "y":{"field":"h","type":"quantitative","scale":{"domain":[1395,1413],"nice":false,"zero":false},"axis":{"title":null}},"y2":{"field":"l"},
  "color":{"field":"k","type":"nominal","legend":null,"scale":{"domain":["g","lime","w","b","gy","dr","m","y","c","r","gd","ub","lg","wt","B"],"range":["#009000","#00ff00","#e8e8ff","#0000ff","#a0a0c0","#b00000","#ff00ff","#ffff00","#00ffff","#ff0000","#00c000","#2828e0","#00e600","#ffffff","#0000ff"]}}}},
{"data":{"name":"candles"},"mark":{"type":"rule","strokeWidth":5,"strokeCap":"butt"},
 "encoding":{"x":{"field":"s","type":"quantitative","scale":{"domain":[-0.73,15.25],"nice":false,"zero":false},"axis":{"title":null}},
  "y":{"field":"t","type":"quantitative","scale":{"domain":[1395,1413],"nice":false,"zero":false},"axis":{"title":null}},"y2":{"field":"b"},
  "color":{"field":"k","type":"nominal","legend":null,"scale":{"domain":["g","lime","w","b","gy","dr","m","y","c","r","gd","ub","lg","wt","B"],"range":["#009000","#00ff00","#e8e8ff","#0000ff","#a0a0c0","#b00000","#ff00ff","#ffff00","#00ffff","#ff0000","#00c000","#2828e0","#00e600","#ffffff","#0000ff"]}}}},
{"data":{"name":"cyan"},"mark":{"type":"line","color":"#00ffff","strokeWidth":1},
 "encoding":{"x":{"field":"s","type":"quantitative","scale":{"domain":[-0.73,15.25],"nice":false,"zero":false},"axis":{"title":null}},
  "y":{"field":"p","type":"quantitative","scale":{"domain":[1395,1413],"nice":false,"zero":false},"axis":{"title":null}},"detail":{"field":"id","type":"nominal"}}},
{"data":{"name":"green"},"mark":{"type":"line","color":"#00e000","strokeWidth":1},
 "encoding":{"x":{"field":"s","type":"quantitative","scale":{"domain":[-0.73,15.25],"nice":false,"zero":false},"axis":{"title":null}},
  "y":{"field":"p","type":"quantitative","scale":{"domain":[1395,1413],"nice":false,"zero":false},"axis":{"title":null}},"detail":{"field":"id","type":"nominal"}}},
{"data":{"name":"red"},"mark":{"type":"line","color":"#ff0000","strokeWidth":1},
 "encoding":{"x":{"field":"s","type":"quantitative","scale":{"domain":[-0.73,15.25],"nice":false,"zero":false},"axis":{"title":null}},
  "y":{"field":"p","type":"quantitative","scale":{"domain":[1395,1413],"nice":false,"zero":false},"axis":{"title":null}},"detail":{"field":"id","type":"nominal"}}},
{"data":{"name":"magenta"},"mark":{"type":"line","color":"#ff00ff","strokeWidth":1.2},
 "encoding":{"x":{"field":"s","type":"quantitative","scale":{"domain":[-0.73,15.25],"nice":false,"zero":false},"axis":{"title":null}},
  "y":{"field":"p","type":"quantitative","scale":{"domain":[1395,1413],"nice":false,"zero":false},"axis":{"title":null}},"detail":{"field":"id","type":"nominal"}}},
{"data":{"name":"ma"},"mark":{"type":"line","color":"#ffff00","strokeWidth":1.5},
 "encoding":{"x":{"field":"s","type":"quantitative","scale":{"domain":[-0.73,15.25],"nice":false,"zero":false},"axis":{"title":null}},
  "y":{"field":"p","type":"quantitative","scale":{"domain":[1395,1413],"nice":false,"zero":false},"axis":{"title":null}}}},
{"data":{"name":"letters"},"mark":{"type":"text","align":"center","baseline":"middle","font":"Liberation Sans","fontWeight":"bold","fontSize":13},
 "encoding":{"x":{"field":"s","type":"quantitative","scale":{"domain":[-0.73,15.25],"nice":false,"zero":false},"axis":{"title":null}},
  "y":{"field":"p","type":"quantitative","scale":{"domain":[1395,1413],"nice":false,"zero":false},"axis":{"title":null}},"text":{"field":"txt"},
  "color":{"field":"k","type":"nominal","legend":null,"scale":{"domain":["g","lime","w","b","gy","dr","m","y","c","r","gd","ub","lg","wt","B"],"range":["#009000","#00ff00","#e8e8ff","#0000ff","#a0a0c0","#b00000","#ff00ff","#ffff00","#00ffff","#ff0000","#00c000","#2828e0","#00e600","#ffffff","#0000ff"]}}}},
{"data":{"name":"rlabels"},"mark":{"type":"text","align":"left","baseline":"middle","font":"Liberation Sans","fontWeight":"bold","fontSize":12},
 "encoding":{"x":{"field":"s","type":"quantitative","scale":{"domain":[-0.73,15.25],"nice":false,"zero":false},"axis":{"title":null}},
  "y":{"field":"p","type":"quantitative","scale":{"domain":[1395,1413],"nice":false,"zero":false},"axis":{"title":null}},"text":{"field":"txt"},
  "color":{"field":"k","type":"nominal","legend":null,"scale":{"domain":["g","lime","w","b","gy","dr","m","y","c","r","gd","ub","lg","wt","B"],"range":["#009000","#00ff00","#e8e8ff","#0000ff","#a0a0c0","#b00000","#ff00ff","#ffff00","#00ffff","#ff0000","#00c000","#2828e0","#00e600","#ffffff","#0000ff"]}}}},
{"data":{"name":"titles"},"mark":{"type":"text","align":"left","baseline":"middle","font":"Liberation Sans","fontWeight":"bold","fontSize":14.3},
 "encoding":{"x":{"field":"s","type":"quantitative","scale":{"domain":[-0.73,15.25],"nice":false,"zero":false},"axis":{"title":null}},
  "y":{"field":"p","type":"quantitative","scale":{"domain":[1395,1413],"nice":false,"zero":false},"axis":{"title":null}},"text":{"field":"txt"},
  "color":{"field":"k","type":"nominal","legend":null,"scale":{"domain":["g","lime","w","b","gy","dr","m","y","c","r","gd","ub","lg","wt","B"],"range":["#009000","#00ff00","#e8e8ff","#0000ff","#a0a0c0","#b00000","#ff00ff","#ffff00","#00ffff","#ff0000","#00c000","#2828e0","#00e600","#ffffff","#0000ff"]}}}},
{"data":{"name":"small"},"mark":{"type":"text","align":"left","baseline":"middle","font":"Liberation Sans","fontSize":9.5,"color":"#2828e0"},
 "encoding":{"x":{"field":"s","type":"quantitative","scale":{"domain":[-0.73,15.25],"nice":false,"zero":false},"axis":{"title":null}},
  "y":{"field":"p","type":"quantitative","scale":{"domain":[1395,1413],"nice":false,"zero":false},"axis":{"title":null}},"text":{"field":"txt"}}}
]
}
